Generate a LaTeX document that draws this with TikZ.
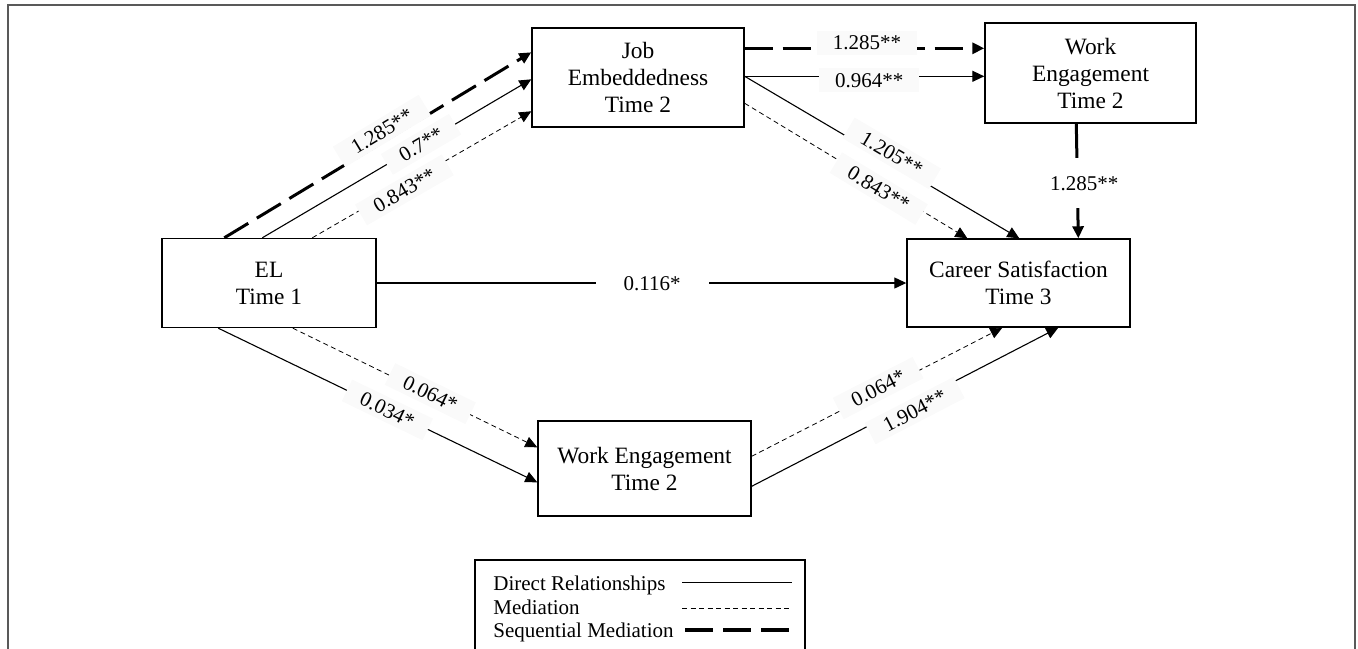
\documentclass[tikz,border=0pt]{standalone}
\usepackage{fontspec}
\setmainfont{Liberation Serif}
\usetikzlibrary{arrows.meta}
\tikzset{every node/.style={font=\fontsize{11.7}{13.5}\selectfont}}
\colorlet{framecol}{black!65}
\colorlet{boxcol}{black}
\colorlet{linkcol}{black}
\colorlet{labelbg}{black!2}

\tikzset{
  varbox/.style={draw=boxcol, line width=0.7pt, align=center, inner sep=0pt},
  direct/.style={->, line width=0.55pt, linkcol},
  mediation/.style={->, line width=0.4pt, linkcol, dash pattern=on 2.5pt off 1.75pt},
  sequential/.style={->, line width=1.5pt, linkcol, dash pattern=on 14pt off 5pt},
  coef/.style={font=\fontsize{10.5}{12}\selectfont, fill=labelbg, inner xsep=8pt,
    inner ysep=2.5pt, text height=7pt, text depth=0pt},
  legtext/.style={font=\fontsize{10.5}{12}\selectfont, anchor=base west, inner sep=0pt},
}

\begin{document}
\begin{tikzpicture}[x=0.5pt, y=-0.5pt, >={Triangle[length=6pt,width=5.5pt]}]

  \useasboundingbox (0,0) rectangle (1358,648);
  \clip (0,0) rectangle (1358,648);

  % Outer frame (cut at the bottom).
  \draw[framecol, line width=0.65pt] (8,670) -- (8,5) -- (1355,5) -- (1355,670);

  % Variables.
  \node[varbox, minimum width=107pt, minimum height=44.5pt] (el) at (269,283) {EL\\Time 1};
  \node[varbox, minimum width=106pt, minimum height=49.5pt] (je) at (638,77.5)
    {Job\\Embeddedness\\Time 2};
  \node[varbox, minimum width=105.5pt, minimum height=50pt] (wetop) at (1090.5,73)
    {Work\\Engagement\\Time 2};
  \node[varbox, minimum width=111.5pt, minimum height=44pt] (cs) at (1018.5,283)
    {Career Satisfaction\\Time 3};
  \node[varbox, minimum width=106.5pt, minimum height=47.5pt] (webot) at (644.5,468.5)
    {Work Engagement\\Time 2};

  % EL -> Job Embeddedness.
  \draw[sequential] ([xshift=31.5pt]el.north west) -- ([yshift=-12.5pt]je.north west)
    node[coef, sloped, pos=0.53, above=-1.8pt] {1.285**};
  \draw[direct] ([xshift=50.5pt]el.north west) -- ([yshift=-26pt]je.north west)
    node[coef, sloped, pos=0.59] {0.7**};
  \draw[mediation] ([xshift=75.5pt]el.north west) -- ([yshift=-42pt]je.north west)
    node[coef, sloped, pos=0.41, below=-3.9pt] {0.843**};

  % Job Embeddedness -> Work Engagement (top).
  \draw[sequential] ([yshift=-10.5pt]je.north east) -- ([yshift=-13pt]wetop.north west)
    node[coef, pos=0.51, above=-4pt] {1.285**};
  \draw[direct] ([yshift=-24.5pt]je.north east) -- ([yshift=-27pt]wetop.north west)
    node[coef, pos=0.52, below=-4.3pt] {0.964**};

  % Job Embeddedness -> Career Satisfaction.
  \draw[direct] ([yshift=-24.5pt]je.north east) -- ([xshift=56.5pt]cs.north west)
    node[coef, sloped, pos=0.52, above=-2.1pt] {1.205**};
  \draw[mediation] ([yshift=-38pt]je.north east) -- ([xshift=30.5pt]cs.north west)
    node[coef, sloped, pos=0.61, below=-4.5pt] {0.843**};

  % Work Engagement (top) -> Career Satisfaction.
  \draw[sequential, solid] ([xshift=46pt]wetop.south west) -- ([xshift=86pt]cs.north west)
    node[coef, pos=0.52, xshift=3.5pt, fill=white, inner ysep=9pt, inner xsep=2pt] {1.285**};

  % EL -> Career Satisfaction.
  \draw[direct] (el.east) -- (cs.west)
    node[coef, pos=0.52, fill=white, inner xsep=14pt] {0.116*};

  % EL -> Work Engagement (bottom).
  \draw[direct] ([xshift=28.5pt]el.south west) -- ([yshift=-31pt]webot.north west)
    node[coef, sloped, pos=0.53] {0.034*};
  \draw[mediation] ([xshift=65.75pt]el.south west) -- ([yshift=-13.5pt]webot.north west)
    node[coef, sloped, pos=0.56, above=-5.5pt] {0.064*};

  % Work Engagement (bottom) -> Career Satisfaction.
  \draw[mediation] ([yshift=-18pt]webot.north east) -- ([xshift=48pt]cs.south west)
    node[coef, sloped, pos=0.51, above=-4.7pt] {0.064*};
  \draw[direct] ([yshift=-33pt]webot.north east) -- ([xshift=76pt]cs.south west)
    node[coef, sloped, pos=0.52, below=-2.5pt] {1.904**};

  % Legend.
  \draw[boxcol, line width=0.7pt] (475,560) rectangle (805,680);
  \node[legtext] (legdirect) at (493,590) {Direct Relationships};
  \node[legtext] (legmed) at (493,614) {Mediation};
  \node[legtext] (legseq) at (493,637.5) {Sequential Mediation};
  \draw[direct, -] (682,582.7) -- (792,582.7);
  \draw[mediation, -] (682,608.3) -- (792,608.3);
  \draw[sequential, -, line width=2pt] (685,630) -- (792,630);

\end{tikzpicture}
\end{document}
